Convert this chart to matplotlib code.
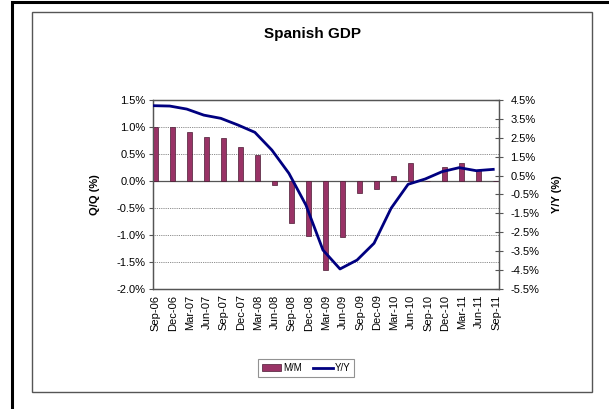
import numpy as np
import matplotlib
matplotlib.use("Agg")
from matplotlib import pyplot as plt
from matplotlib.patches import Rectangle

plt.rcParams["font.family"] = ["Liberation Sans", "DejaVu Sans"]

quarters = ["Sep-06", "Dec-06", "Mar-07", "Jun-07", "Sep-07", "Dec-07", "Mar-08",
            "Jun-08", "Sep-08", "Dec-08", "Mar-09", "Jun-09", "Sep-09", "Dec-09",
            "Mar-10", "Jun-10", "Sep-10", "Dec-10", "Mar-11", "Jun-11", "Sep-11"]
qoq = [1.0, 1.0, 0.9, 0.82, 0.8, 0.63, 0.48, -0.07, -0.77, -1.01, -1.65, -1.04,
       -0.23, -0.15, 0.09, 0.34, 0.0, 0.26, 0.34, 0.2, 0.0]
yoy = [4.2, 4.18, 4.02, 3.7, 3.53, 3.18, 2.79, 1.85, 0.62, -1.06, -3.44, -4.44,
       -3.97, -3.08, -1.23, 0.04, 0.32, 0.71, 0.92, 0.76, 0.83]

left_ticks = [1.5, 1.0, 0.5, 0.0, -0.5, -1.0, -1.5, -2.0]
right_ticks = [4.5, 3.5, 2.5, 1.5, 0.5, -0.5, -1.5, -2.5, -3.5, -4.5, -5.5]

fig = plt.figure(figsize=(6.09, 4.09), dpi=100)

# frame lines around the chart
fig.add_artist(Rectangle((12 / 609, -0.05), 1.1, 1 - 2 / 409 + 0.05, transform=fig.transFigure,
                         fill=False, edgecolor="black", linewidth=2.2))
fig.add_artist(Rectangle((32 / 609, 1 - 392 / 409), 560 / 609, 380 / 409, transform=fig.transFigure,
                         fill=False, edgecolor="#555555", linewidth=1.0))

ax = fig.add_axes([152.7 / 609, 1 - 289 / 409, 346.5 / 609, 189 / 409])
x = np.arange(len(quarters))

ax.bar(x, qoq, width=0.3, align="edge", color="#993366", edgecolor="#4a1a33",
       linewidth=0.5, zorder=3, label="M/M")
ax.set_ylim(-2.0, 1.5)
ax.set_yticks(left_ticks)
ax.set_yticklabels([f"{v:.1f}%" for v in left_ticks], fontsize=8)
ax.set_xlim(0, 20.35)
ax.set_xticks(x + 0.18)
ax.set_xticklabels(quarters, rotation=90, fontsize=8)
ax.tick_params(axis="x", length=0, pad=4)
ax.tick_params(axis="y", length=3, direction="out", color="#555555", pad=2)
for v in left_ticks[1:-1]:
    if v != 0:
        ax.axhline(v, color="#666666", linewidth=0.6, linestyle=(0, (1, 1.2)), zorder=1)
ax.axhline(0, color="#555555", linewidth=0.9, zorder=2)
for s in ax.spines.values():
    s.set_color("#555555")
    s.set_linewidth(0.9)
ax.set_ylabel("Q/Q (%)", fontsize=8, fontweight="bold")
ax.yaxis.set_label_coords(-0.152, 0.5)

ax2 = ax.twinx()
ax2.plot(x, yoy, color="#000080", linewidth=2.0, zorder=4, label="Y/Y")
ax2.set_ylim(-5.5, 4.5)
ax2.set_yticks(right_ticks)
ax2.set_yticklabels([f"{v:.1f}%" for v in right_ticks], fontsize=8)
ax2.tick_params(axis="y", length=6, direction="inout", color="#555555", pad=5)
ax2.set_ylabel("Y/Y (%)", fontsize=8, fontweight="bold")
ax2.yaxis.set_label_coords(1.152, 0.5)
for s in ax2.spines.values():
    s.set_color("#555555")
    s.set_linewidth(0.9)

fig.text(313 / 609, 1 - 34 / 409, "Spanish GDP", ha="center", va="center",
         fontsize=11, fontweight="bold")

h1, l1 = ax.get_legend_handles_labels()
h2, l2 = ax2.get_legend_handles_labels()
leg = fig.legend(h1 + h2, l1 + l2, loc="center", bbox_to_anchor=(306 / 609, 1 - 368 / 409),
                 ncol=2, fontsize=7, frameon=True, fancybox=False, handlelength=2.0,
                 handleheight=0.6, columnspacing=1.2, handletextpad=0.2, borderpad=0.4)
leg.get_frame().set_edgecolor("#777777")
leg.get_frame().set_linewidth(0.8)

fig.savefig("out.png", dpi=100)
